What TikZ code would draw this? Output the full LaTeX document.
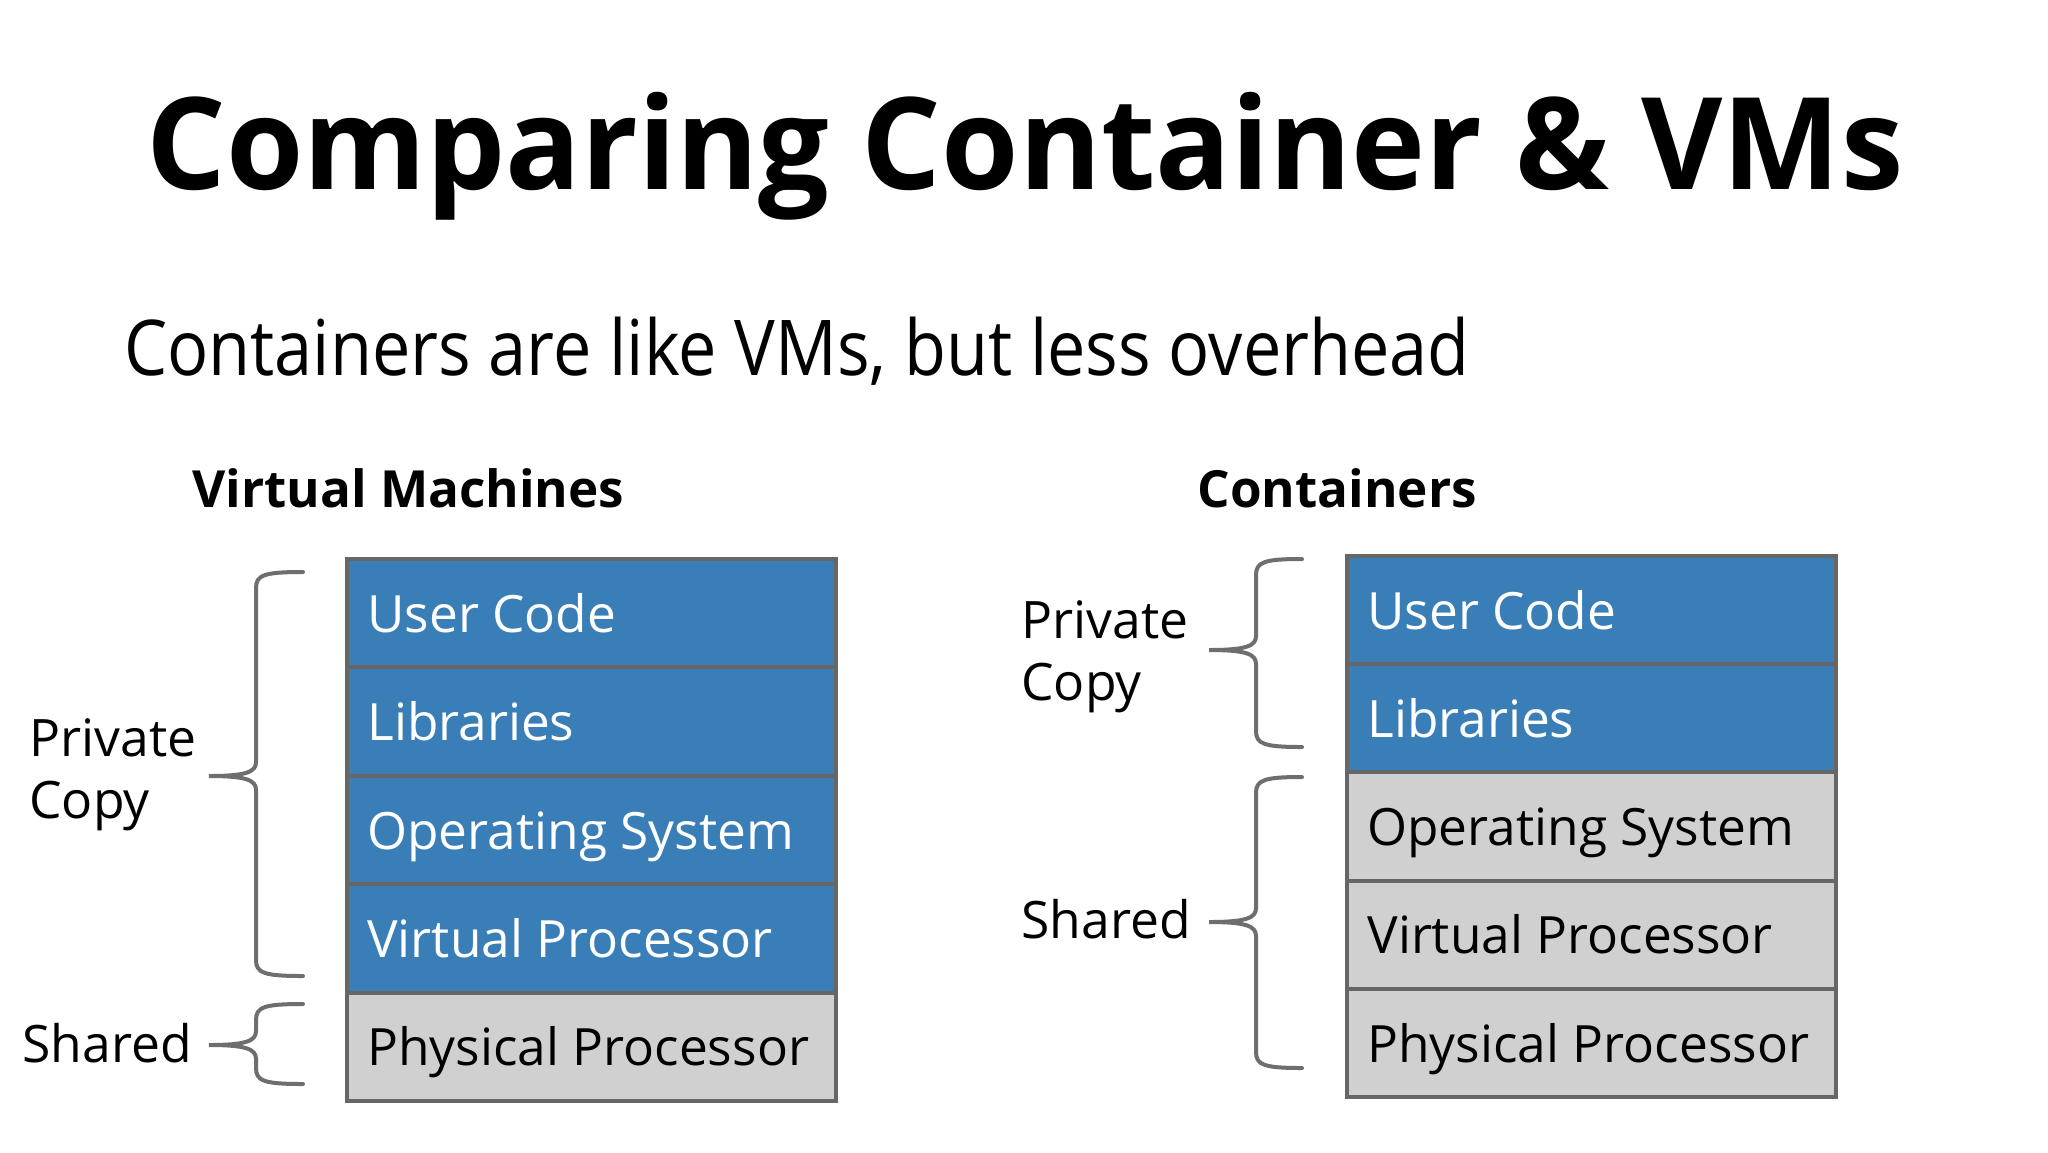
\documentclass[tikz,border=0pt]{standalone}
\usepackage{fontspec}
\setmainfont{Open Sans}
\definecolor{layerblue}{HTML}{3A7EB8}
\definecolor{layergray}{HTML}{D0D0D0}
\definecolor{edgegray}{HTML}{666666}
\definecolor{bracegray}{HTML}{6E6E6E}
\newcommand\drawcurly[6]{% xend, xvert, xtip, ytop, ymid, ybot
  \draw[bracestyle] (#1,#4) .. controls ({#2+8},#4) and (#2,{#4+3}) .. (#2,{#4+16})
    -- (#2,{#5-14}) .. controls (#2,{#5-4}) and ({#2-10},#5) .. (#3,#5)
    .. controls ({#2-10},#5) and (#2,{#5+4}) .. (#2,{#5+14})
    -- (#2,{#6-16}) .. controls (#2,{#6-3}) and ({#2+8},#6) .. (#1,#6);}
\begin{document}
\begin{tikzpicture}[x=0.5pt,y=-0.5pt,
  layer/.style={draw=edgegray, line width=2pt, minimum width=244.5pt, minimum height=54.2pt, anchor=north west, inner sep=0pt, outer sep=0pt},
  bluelayer/.style={layer, fill=layerblue},
  graylayer/.style={layer, fill=layergray},
  ltext/.style={anchor=base west, inner sep=0pt, font=\fontsize{25.7}{31}\selectfont},
  bracestyle/.style={draw=bracegray, line width=2pt, line cap=round},
  sidelabel/.style={anchor=base west, inner sep=0pt, align=left, font=\fontsize{25.8}{31}\selectfont},
  header/.style={anchor=base west, inner sep=0pt, font=\fontsize{25.6}{31}\selectfont\bfseries}]
\useasboundingbox[fill=white] (0,0) rectangle (2048,1152);

\node[anchor=base, inner sep=0pt, font=\fontsize{64}{70}\selectfont\bfseries] (title) at (1025,189) {\scalebox{0.978}[1]{Comparing Container \& VMs}};
\node[anchor=base west, inner sep=0pt, font=\fontsize{38.5}{44}\selectfont] (subtitle) at (124,375) {\scalebox{0.888}[1]{Containers are like VMs, but less overhead}};

\node[header] (vmhead) at (192,507) {Virtual Machines};
\node[header] (cthead) at (1197,507) {Containers};

% VM stack
\node[bluelayer] (v1) at (347,559) {};
\node[bluelayer] (v2) at (347,667.4) {};
\node[bluelayer] (v3) at (347,775.8) {};
\node[bluelayer] (v4) at (347,884.2) {};
\node[graylayer] (v5) at (347,992.6) {};
\node[ltext, text=white] (v1t) at ([shift={(20,19)}]v1.west) {User Code};
\node[ltext, text=white] (v2t) at ([shift={(20,19)}]v2.west) {Libraries};
\node[ltext, text=white] (v3t) at ([shift={(20,19)}]v3.west) {Operating System};
\node[ltext, text=white] (v4t) at ([shift={(20,19)}]v4.west) {Virtual Processor};
\node[ltext, text=black] (v5t) at ([shift={(20,19)}]v5.west) {Physical Processor};

% Container stack
\node[bluelayer] (c1) at (1347,556) {};
\node[bluelayer] (c2) at (1347,664.2) {};
\node[graylayer] (c3) at (1347,772.4) {};
\node[graylayer] (c4) at (1347,880.6) {};
\node[graylayer] (c5) at (1347,988.8) {};
\node[ltext, text=white] (c1t) at ([shift={(20,19)}]c1.west) {User Code};
\node[ltext, text=white] (c2t) at ([shift={(20,19)}]c2.west) {Libraries};
\node[ltext, text=black] (c3t) at ([shift={(20,19)}]c3.west) {Operating System};
\node[ltext, text=black] (c4t) at ([shift={(20,19)}]c4.west) {Virtual Processor};
\node[ltext, text=black] (c5t) at ([shift={(20,19)}]c5.west) {Physical Processor};

% Braces
\drawcurly{303}{256}{209}{572}{776}{976}
\drawcurly{303}{256}{209}{1004}{1045}{1084}
\drawcurly{1302}{1256}{1209}{559}{650}{747}
\drawcurly{1302}{1256}{1209}{777}{922}{1068}

% Side labels (base anchor = last line's baseline)
\node[sidelabel] (vmpriv) at (29,818) {Private\\Copy};
\node[sidelabel] (vmshared) at (22,1062) {Shared};
\node[sidelabel] (ctpriv) at (1021,700) {Private\\Copy};
\node[sidelabel] (ctshared) at (1021,938) {Shared};
\end{tikzpicture}
\end{document}
